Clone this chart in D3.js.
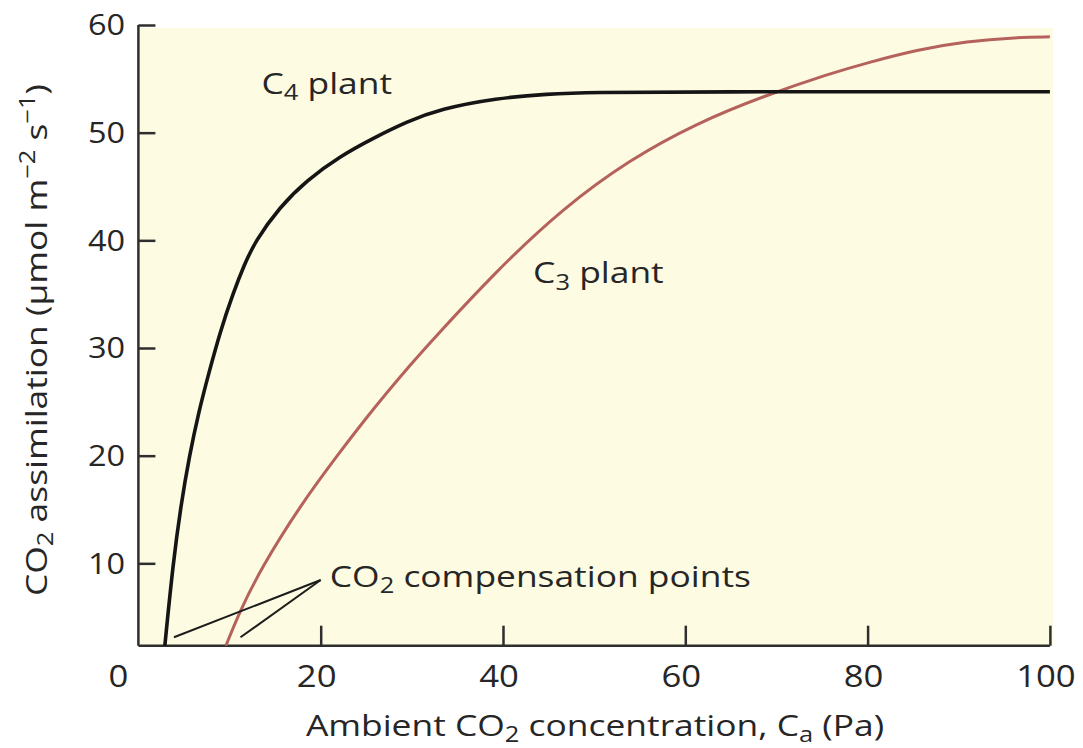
<!DOCTYPE html>
<html>
<head>
<meta charset="utf-8">
<script src="https://cdn.jsdelivr.net/npm/d3@7"></script>
<style>
  html, body { margin: 0; padding: 0; background: #ffffff; }
  svg { display: block; }
  text { font-family: "Open Sans", "Noto Sans", sans-serif; fill: #262626; }
</style>
</head>
<body>
<svg id="chart" width="1083" height="748"></svg>
<script>
// Ambient CO2 (Pa) against net CO2 assimilation for a C4 and a C3 leaf
const c4Ca = [2.9, 3.8, 4.7, 5.6, 6.6, 7.7, 9.0, 10.4, 11.6, 12.8, 15.5, 18.5, 22.1, 25.8, 29.4, 33.1, 39.3, 44.8, 50, 60, 100];
const c4A  = [2.35, 10, 15.6, 20, 24.0, 27.6, 31.6, 35.1, 37.7, 39.9, 43.1, 45.6, 47.8, 49.5, 51.0, 52.2, 53.2, 53.6, 53.75, 53.8, 53.8];

const c3Ca = [9.6, 11.1, 13.5, 17.7, 21.8, 25.8, 30.2, 32, 39.3, 46.6, 53.9, 61.3, 68.6, 75.9, 80, 85.4, 90.9, 96.4, 100];
const c3A  = [2.35, 5.5, 9.6, 15.3, 20, 24.4, 28.8, 30.5, 37.2, 43.0, 47.5, 50.9, 53.4, 55.5, 56.5, 57.7, 58.5, 58.85, 58.9];

const xTicks = [0, 20, 40, 60, 80, 100];
const yTicks = [10, 20, 30, 40, 50, 60];
const yFloor = 2.35;   // the x axis sits a little above zero

// compensation-point callout: label anchor and the two curve points it points to
const calloutFrom = [20.0, 8.45];
const calloutTo = [[3.9, 3.13], [11.2, 3.13]];

const svg = d3.select("#chart");
const x = d3.scaleLinear().domain([0, 100]).range([138.4, 1049.9]);
const y = d3.scaleLinear().domain([yFloor, 60]).range([645.7, 25]);

const WIDE = 1.18;   // the lettering is a wide face: stretch glyphs horizontally

// pale yellow plotting field
svg.append("rect")
  .attr("x", x(0)).attr("y", y(60) + 3)
  .attr("width", x(100) - x(0) + 3).attr("height", y(yFloor) - y(60) - 3)
  .attr("fill", "#fdfbe1");

// axes with inward ticks
const axisColor = "#2e2e2e";
const gy = svg.append("g").attr("transform", `translate(${x(0)},0)`)
  .call(d3.axisRight(y).tickValues(yTicks).tickSize(17).tickFormat(""));
const gx = svg.append("g").attr("transform", `translate(0,${y(yFloor)})`)
  .call(d3.axisTop(x).tickValues(xTicks.filter(d => d > 0)).tickSize(20).tickFormat(""));
[gy, gx].forEach(g => {
  g.select(".domain").attr("stroke", axisColor).attr("stroke-width", 2.5);
  g.selectAll(".tick line").attr("stroke", axisColor).attr("stroke-width", 2.5);
});
gy.select(".domain").attr("d", `M0,${y(yFloor)}V${y(60)}`);
gx.select(".domain").attr("d", `M${x(0)},0H${x(100)}`);

// tick labels
svg.append("g").selectAll("text").data(yTicks).join("text")
  .attr("transform", d => `translate(125,${y(d)}) scale(1.12,1)`)
  .attr("dy", "0.36em").attr("text-anchor", "end")
  .attr("font-size", 29).text(d => d);
svg.append("g").selectAll("text").data(xTicks).join("text")
  .attr("transform", d => `translate(${d === 0 ? x(d) - 20 : x(d) - 4},687) scale(1.12,1)`)
  .attr("text-anchor", "middle")
  .attr("font-size", 31).text(d => d);

// curves
const line = d3.line().x(d => x(d[0])).y(d => y(d[1])).curve(d3.curveBasis);
svg.append("path").datum(d3.zip(c3Ca, c3A))
  .attr("d", line).attr("fill", "none")
  .attr("stroke", "#b5615c").attr("stroke-width", 3);
svg.append("path").datum(d3.zip(c4Ca, c4A))
  .attr("d", line).attr("fill", "none")
  .attr("stroke", "#151515").attr("stroke-width", 3.6);

// callout lines
svg.append("g").selectAll("line").data(calloutTo).join("line")
  .attr("x1", x(calloutFrom[0])).attr("y1", y(calloutFrom[1]))
  .attr("x2", d => x(d[0])).attr("y2", d => y(d[1]))
  .attr("stroke", "#1c1c1c").attr("stroke-width", 2);

// text with subscript / superscript parts
function subText(parent, px, py, parts, size, anchor, rotate) {
  const t = parent.append("text")
    .attr("font-size", size).attr("text-anchor", anchor || "start")
    .attr("transform", `translate(${px},${py})${rotate ? " rotate(-90)" : ""} scale(${WIDE},1)`);
  parts.forEach(p => {
    const s = t.append("tspan").text(p.t);
    if (p.sub) s.attr("font-size", size * 0.72).attr("baseline-shift", "-0.3em");
    if (p.sup) s.attr("font-size", size * 0.72).attr("baseline-shift", "0.55em");
  });
  return t;
}

subText(svg, x(13.5), y(53.6), [{t: "C"}, {t: "4", sub: true}, {t: " plant"}], 30);
subText(svg, x(43.3), y(36.0), [{t: "C"}, {t: "3", sub: true}, {t: " plant"}], 30);
subText(svg, x(21.0), y(7.8), [{t: "CO"}, {t: "2", sub: true}, {t: " compensation points"}], 30);

// axis titles
subText(svg, 595, 736, [
  {t: "Ambient CO"}, {t: "2", sub: true}, {t: " concentration, C"}, {t: "a", sub: true}, {t: " (Pa)"}
], 30, "middle");
subText(svg, 47, 340, [
  {t: "CO"}, {t: "2", sub: true}, {t: " assimilation (μmol m"}, {t: "−2", sup: true},
  {t: " s"}, {t: "−1", sup: true}, {t: ")"}
], 30, "middle", true);
</script>
</body>
</html>
